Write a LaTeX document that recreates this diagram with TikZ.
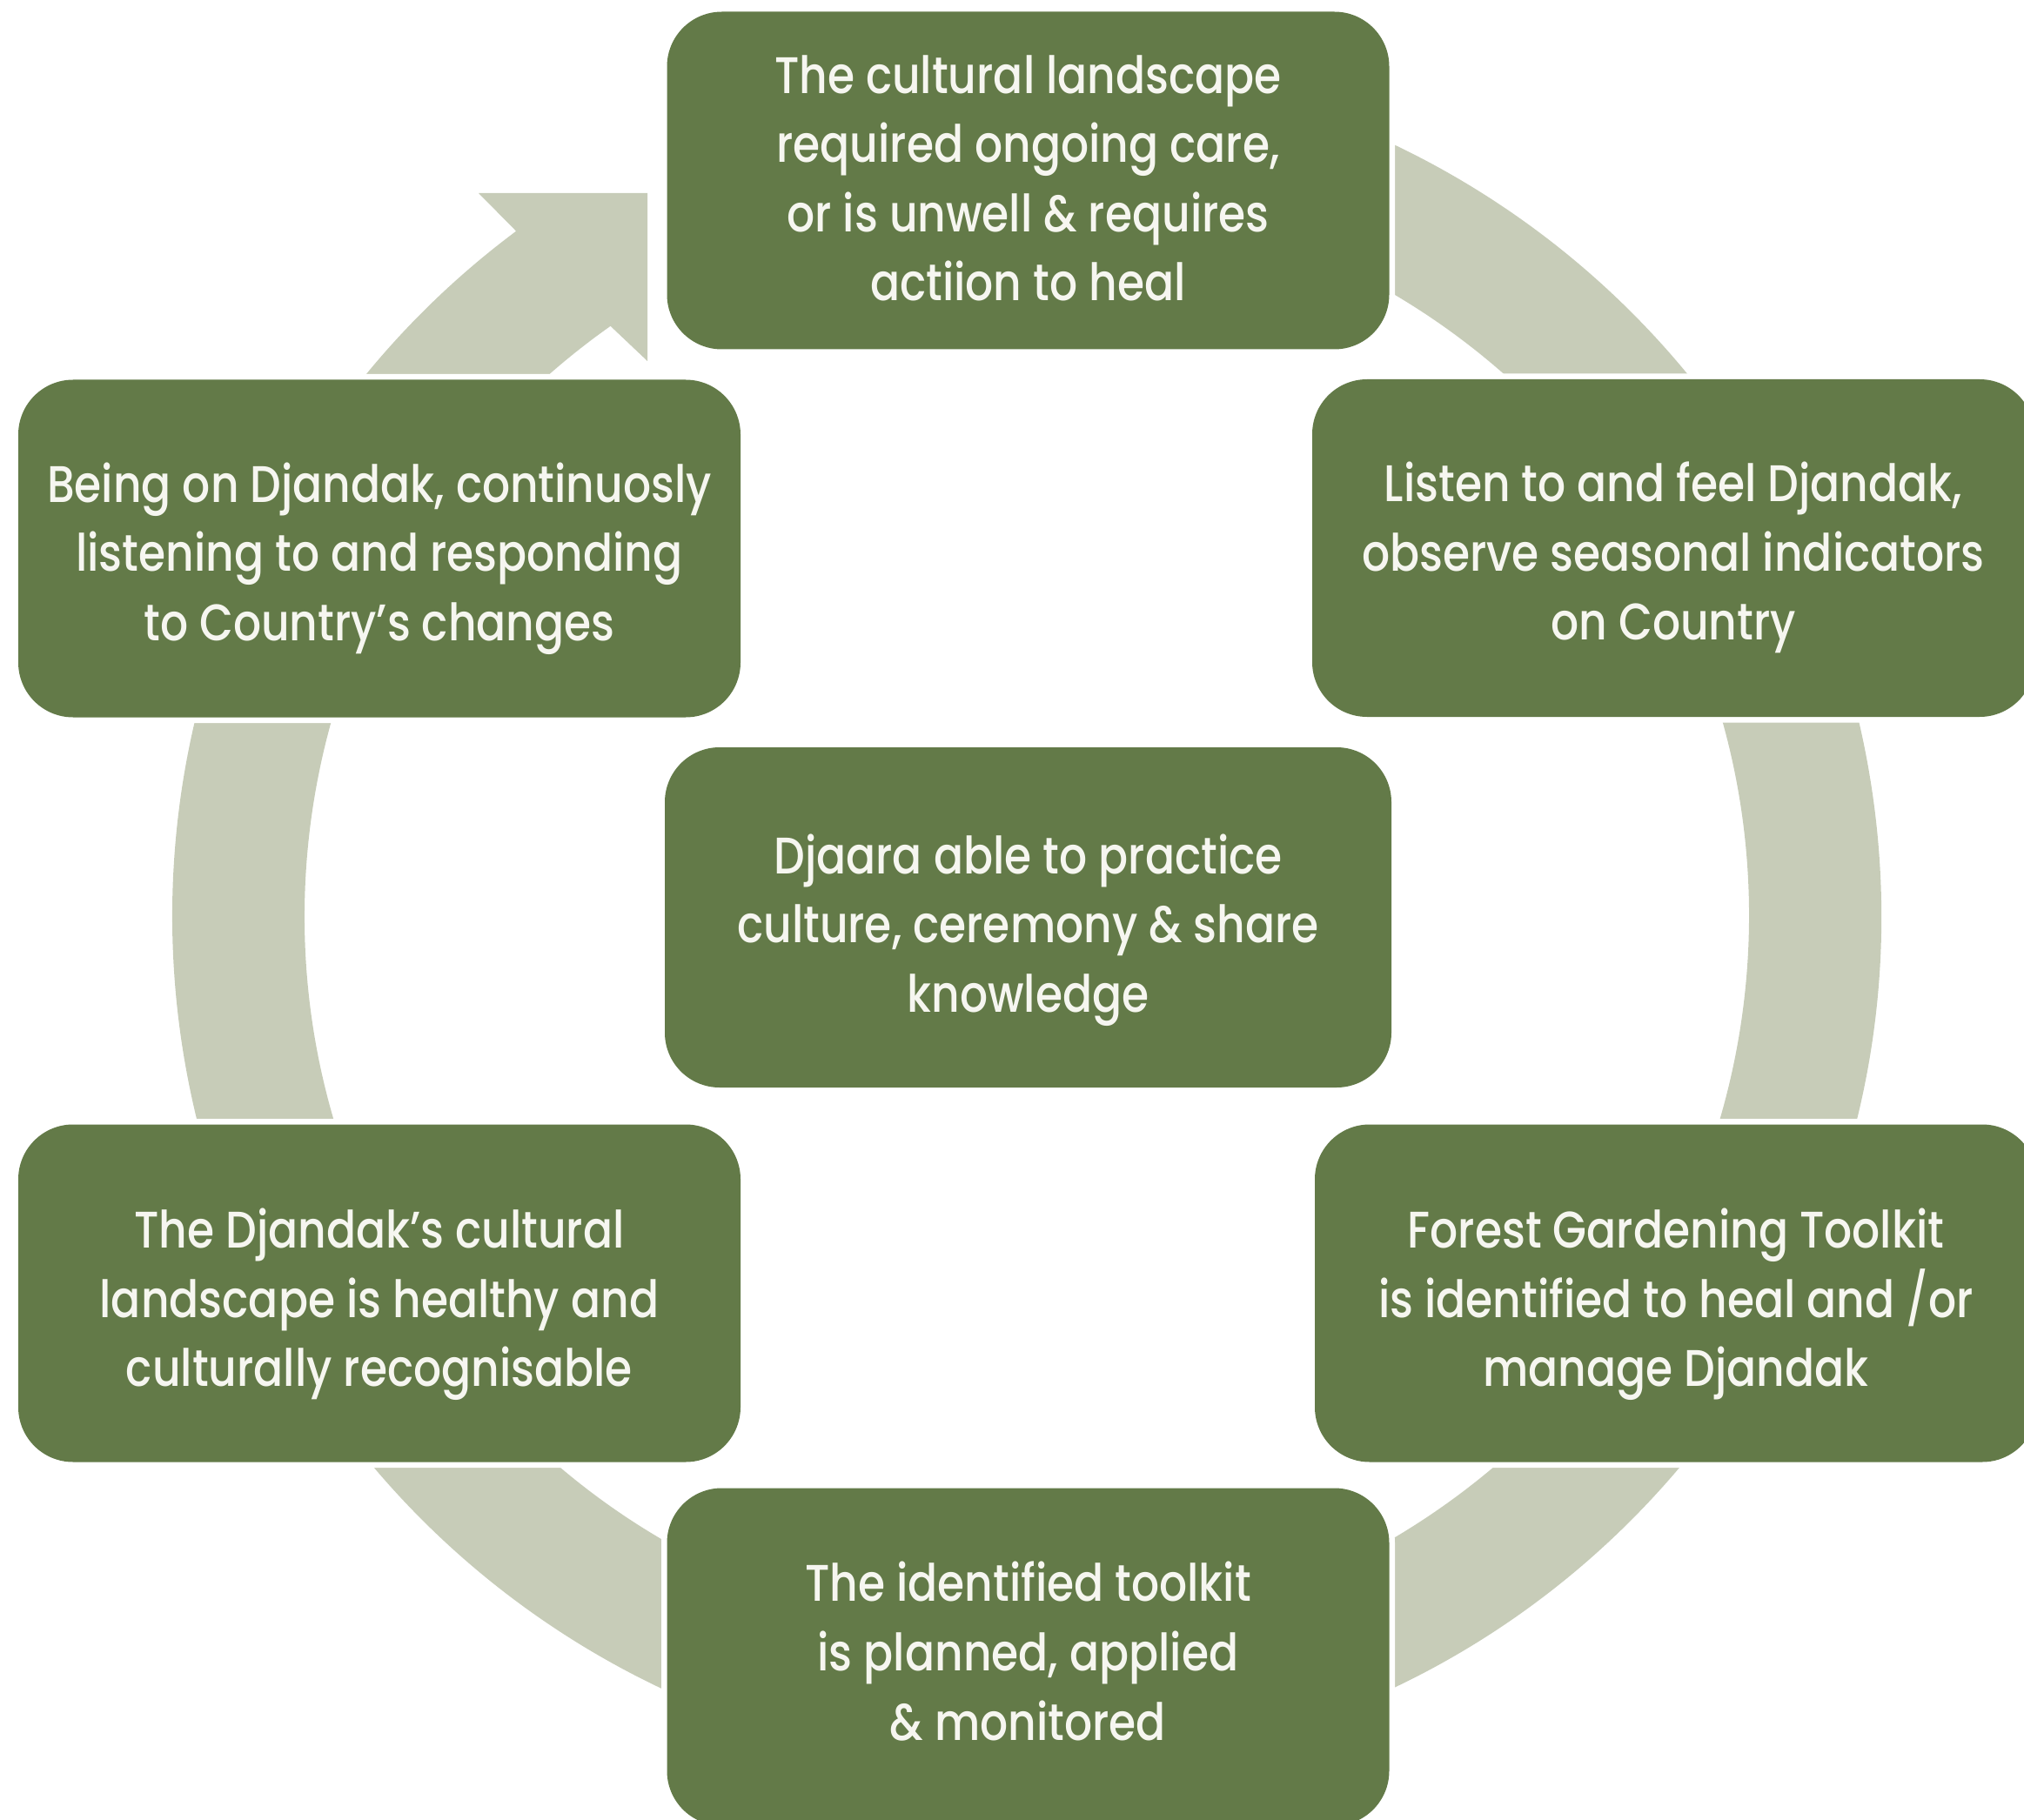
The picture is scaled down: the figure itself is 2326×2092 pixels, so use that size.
\documentclass[tikz,border=0pt]{standalone}
\usepackage{fontspec}
\IfFontExistsTF{Poppins Medium}
  {\setmainfont{Poppins Medium}[FakeStretch=0.85]}
  {\setmainfont{Poppins}[FakeStretch=0.85]}
\definecolor{boxgreen}{RGB}{99,122,72}
\definecolor{ringgrey}{RGB}{199,204,184}
\definecolor{boxtext}{RGB}{246,246,240}
% a taller first-line strut lowers the whole text block by #1
\newcommand\stagelift[1]{\rule{0pt}{\dimexpr 27.86pt+#1+#1\relax}}
\begin{document}
\begin{tikzpicture}[x=0.5pt,y=0.5pt,
  stage/.style={fill=boxgreen, rounded corners=31.5pt,
    preaction={draw=white, line width=6.5pt},
    minimum width=415pt, minimum height=194pt, inner sep=0pt,
    text=boxtext, align=center,
    font={\fontsize{29.6pt}{39.8pt}\selectfont}},
  ring/.style={fill=ringgrey}]
\useasboundingbox (0,0) rectangle (2326,-2092);
\coordinate (c) at (1180,-1053);

% circular arrow behind the stages, running clockwise
\fill[ring] ([shift={(100:982)}]c)
  arc[start angle=100, end angle=-233.3, radius=982]
  -- (550,-222) -- (744,-222) -- (744,-415)
  -- ([shift={(125.2:830)}]c)
  arc[start angle=-234.8, end angle=100, radius=830] -- cycle;

\node[stage] (care)    at (1181.5,-207.5) {\stagelift{1.5pt}The cultural landscape\\required ongoing care,\\or is unwell \& requires\\actiion to heal\strut};
\node[stage] (listen)  at (1923,-630)     {\stagelift{5.2pt}Listen to and feel Djandak,\\observe seasonal indicators\\on Country\strut};
\node[stage] (being)   at (436,-630.5)    {\stagelift{5.2pt}Being on Djandak, continuosly\\listening to and responding\\to Country’s changes\strut};
\node[stage, minimum width=417.5pt, minimum height=195.5pt] (djaara) at (1181.5,-1054.5) {\stagelift{6.7pt}Djaara able to practice\\culture, ceremony \& share\\knowledge\strut};
\node[stage] (healthy) at (436,-1486.5)   {\stagelift{5.9pt}The Djandak’s cultural\\landscape is healthy and\\culturally recognisable\strut};
\node[stage] (toolkit) at (1926,-1486.5)  {\stagelift{5.9pt}Forest Gardening Toolkit\\is identified to heal and /or\\manage Djandak\strut};
\node[stage] (applied) at (1181.5,-1904.5) {\strut The identified toolkit\\is planned, applied\\\& monitored\strut};
\end{tikzpicture}
\end{document}
